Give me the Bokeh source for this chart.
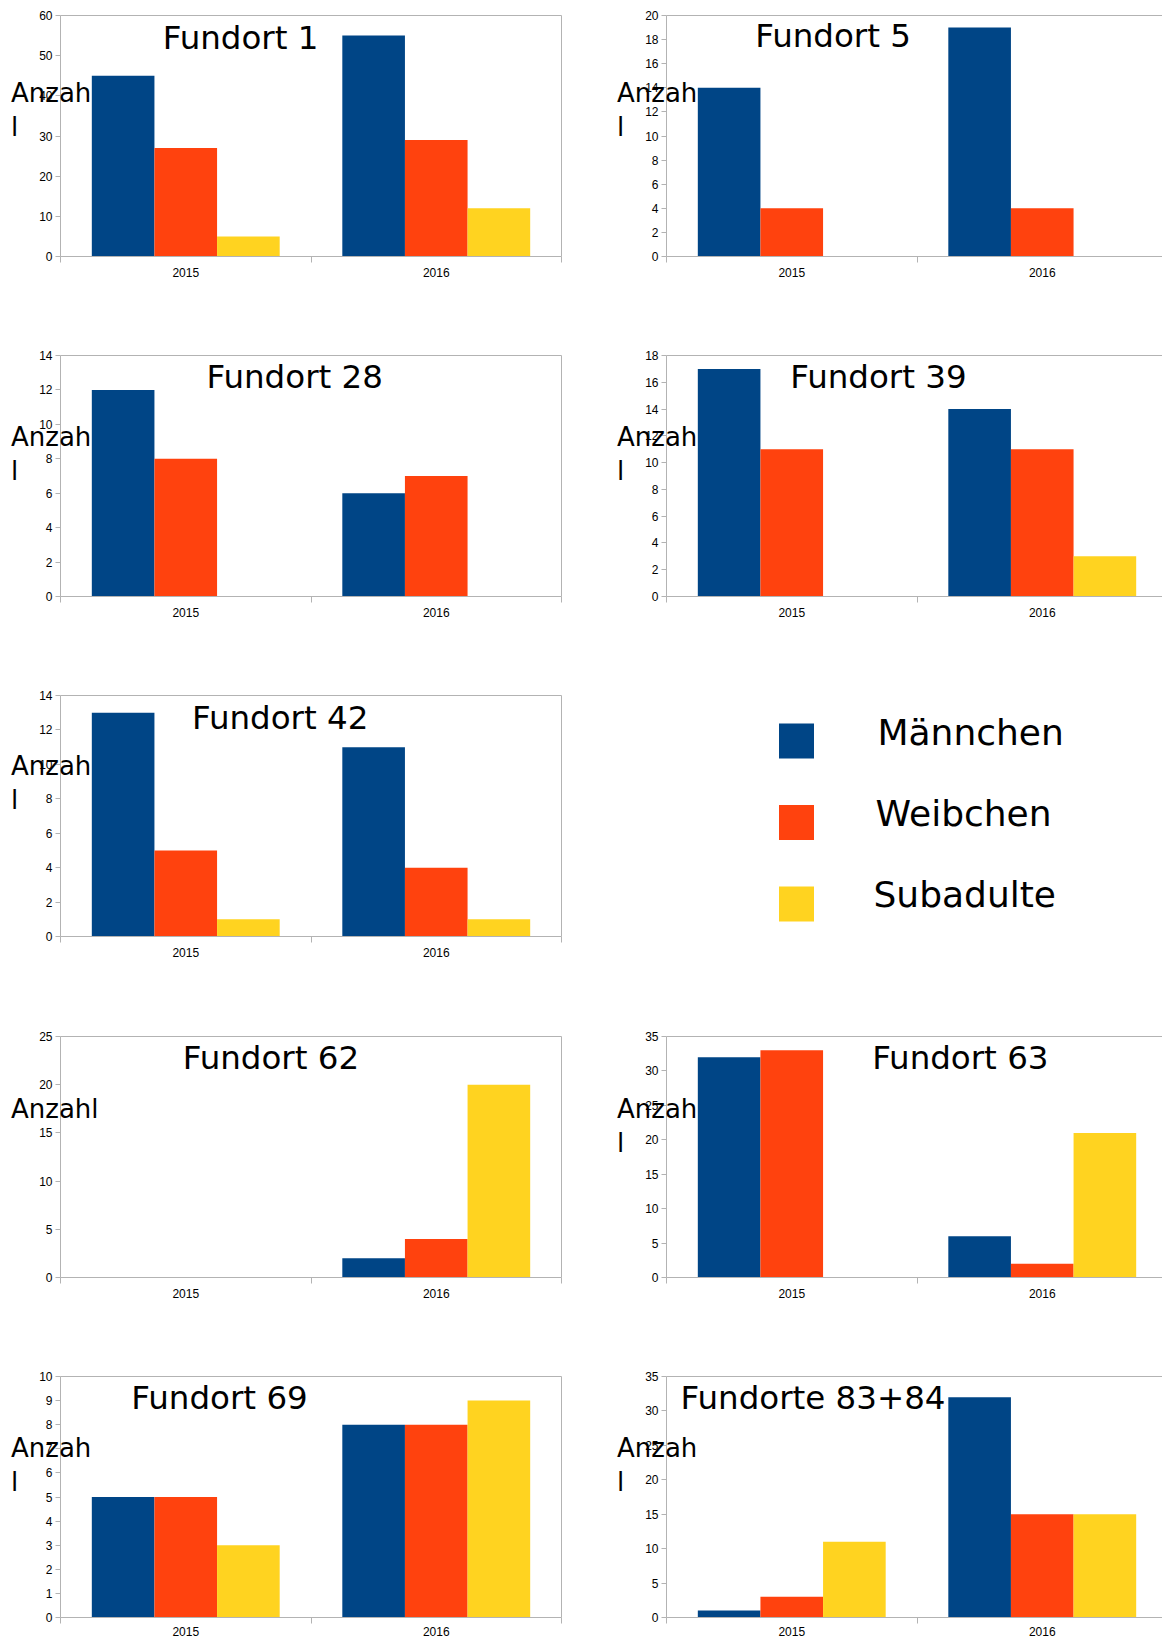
from bokeh.plotting import figure
from bokeh.models import Range1d, FixedTicker, Label, LinearAxis, ColumnDataSource
from bokeh.core.properties import value
from bokeh.layouts import column, row
from bokeh.embed import file_html
from bokeh.resources import INLINE
import numpy as np

# ---------------- data ----------------
years = ["2015", "2016"]
groups = ["Männchen", "Weibchen", "Subadulte"]
colors = ["#004586", "#ff420e", "#ffd320"]

sites = ["Fundort 1", "Fundort 5", "Fundort 28", "Fundort 39", "Fundort 42",
         "Fundort 62", "Fundort 63", "Fundort 69", "Fundorte 83+84"]
maennchen = [[45, 55], [14, 19], [12, 6], [17, 14], [13, 11], [0, 2], [32, 6], [5, 8], [1, 32]]
weibchen = [[27, 29], [4, 4], [8, 7], [11, 11], [5, 4], [0, 4], [33, 2], [5, 8], [3, 15]]
subadulte = [[5, 12], [0, 0], [0, 0], [0, 3], [1, 1], [0, 20], [0, 21], [3, 9], [11, 15]]
y_max = [60, 20, 14, 18, 14, 25, 35, 10, 35]
y_step = [10, 2, 2, 2, 2, 5, 5, 1, 5]
y_titles = ["Anzah\nl", "Anzah\nl", "Anzah\nl", "Anzah\nl", "Anzah\nl",
            "Anzahl", "Anzah\nl", "Anzah\nl", "Anzah\nl"]

# ---------------- layout ----------------
GRAY = "#b3b3b3"
FIG_W = 581
ROW_H = [340, 340, 341, 341, 276]
ROW_TOP = [15, 15, 15, 15, 14]
FRAME_H = 241
CAT_W = 250.5
grid_pos = [(0, 0), (0, 1), (1, 0), (1, 1), (2, 0), (3, 0), (3, 1), (4, 0), (4, 1)]
title_cx = [0.719, 0.665, 0.935, 0.846, 0.877, 0.840, 1.173, 0.635, 0.585]
title_dy = [22, 20, 21, 21, 22, 21, 21, 21, 21]
ylab_dy = [62, 62, 66, 66, 55, 57, 57, 56, 56]
ylab_x = [10.5, 35.5]


def bare_axis(loc, bounds):
    return LinearAxis(ticker=FixedTicker(ticks=[], minor_ticks=[]),
                      fixed_location=loc, bounds=bounds,
                      axis_line_color=GRAY, major_tick_out=0, major_tick_in=0,
                      minor_tick_out=0, minor_tick_in=0, major_label_standoff=0)


def make_panel(i):
    r, c = grid_pos[i]
    h = ROW_H[r]
    top = ROW_TOP[r]
    bottom = h - top - FRAME_H
    lpx = 60 if c == 0 else 85
    rpx = 20 if c == 0 else 0
    x_end = (FIG_W - lpx - rpx) / CAT_W
    ym = y_max[i]
    per_px = ym / FRAME_H
    p = figure(width=FIG_W, height=h, output_backend="svg", toolbar_location=None,
               x_range=Range1d(-lpx / CAT_W, (FIG_W - lpx) / CAT_W),
               y_range=Range1d(-bottom * per_px, ym + top * per_px),
               min_border=0)
    p.xgrid.visible = False
    p.ygrid.visible = False
    p.outline_line_color = None

    # frame lines: top for every panel, right for the left column
    p.add_layout(bare_axis(ym, (0, x_end)), "above")
    if c == 0:
        p.add_layout(bare_axis(x_end, (0, ym)), "right")

    xs = np.arange(len(years))
    src = ColumnDataSource(dict(x=xs, m=maennchen[i], w=weibchen[i], s=subadulte[i]))
    for k, (col, color) in enumerate(zip(["m", "w", "s"], colors)):
        src.data["x%d" % k] = xs + 0.25 * (k + 1)
        p.vbar(x="x%d" % k, top=col, width=0.25, source=src,
               fill_color=color, line_color=None)

    # x axis: labels at category centres, ticks at category borders
    xa = p.below[0]
    xa.fixed_location = 0
    xa.bounds = (0, x_end)
    xa.ticker = FixedTicker(ticks=list(xs + 0.5), minor_ticks=list(np.arange(len(years) + 1)))
    xa.major_label_overrides = {float(x + 0.5): y for x, y in zip(xs, years)}
    xa.major_tick_out = 0
    xa.major_tick_in = 0
    xa.minor_tick_out = 6
    xa.minor_tick_in = 0
    xa.minor_tick_line_color = GRAY
    xa.axis_line_color = GRAY
    xa.major_label_text_font = "Liberation Sans"
    xa.major_label_text_font_size = "12px"
    xa.major_label_text_color = "#000000"
    xa.major_label_standoff = 3 if r == 4 else 5

    ya = p.left[0]
    ya.fixed_location = 0
    ya.bounds = (0, ym)
    ya.ticker = FixedTicker(ticks=list(np.arange(0, ym + y_step[i] / 2, y_step[i])), minor_ticks=[])
    ya.major_tick_out = 5
    ya.major_tick_in = 0
    ya.major_tick_line_color = GRAY
    ya.axis_line_color = GRAY
    ya.major_label_text_font = "Liberation Sans"
    ya.major_label_text_font_size = "12px"
    ya.major_label_text_color = "#000000"
    ya.major_label_standoff = 3

    p.add_layout(Label(x=title_cx[i], y=h - top - title_dy[i], x_units="data", y_units="screen",
                       text=sites[i], text_align="center", text_baseline="middle",
                       text_font="DejaVu Sans", text_font_size="32.5px", text_color="#000000"))
    p.add_layout(Label(x=ylab_x[c], y=h - top - ylab_dy[i], x_units="screen", y_units="screen",
                       text=y_titles[i], text_align="left", text_baseline="top",
                       text_font="DejaVu Sans", text_font_size="26px", text_color="#000000",
                       text_line_height=1.15))
    return p


def make_legend_panel():
    h = ROW_H[2]
    p = figure(width=FIG_W, height=h, output_backend="svg", toolbar_location=None,
               x_range=Range1d(0, FIG_W), y_range=Range1d(h, 0), min_border=0)
    p.axis.visible = False
    p.grid.visible = False
    p.outline_line_color = None
    k = np.arange(len(groups))
    p.rect(x=215, y=60.5 + 81.5 * k, width=35, height=35,
           width_units="screen", height_units="screen",
           fill_color=colors, line_color=None)
    p.text(x=296 - 2 * k, y=51.5 + 81 * k, text=groups,
           text_font=value("DejaVu Sans"), text_font_size="36px",
           text_baseline="alphabetic", text_align="left", text_color="#000000")
    return p


panels = [make_panel(i) for i in range(len(sites))]
legend_panel = make_legend_panel()

layout = column(
    row(panels[0], panels[1]),
    row(panels[2], panels[3]),
    row(panels[4], legend_panel),
    row(panels[5], panels[6]),
    row(panels[7], panels[8]),
)

open("out.html", "w").write(file_html(layout, INLINE))
